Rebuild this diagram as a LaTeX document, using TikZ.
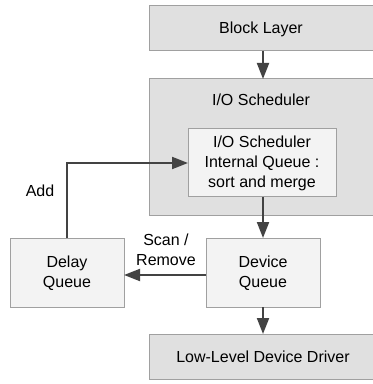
\documentclass[tikz,border=0pt]{standalone}
\usepackage{fontspec}
\setmainfont{Liberation Sans}
\usetikzlibrary{arrows.meta}
\definecolor{boxgray}{HTML}{E0E0E0}
\definecolor{boxlight}{HTML}{F3F3F3}
\definecolor{edgegray}{HTML}{A0A0A0}
\definecolor{arrowgray}{HTML}{434343}
\tikzset{
  layer/.style={draw=edgegray, line width=0.75pt, fill=boxgray},
  queue/.style={draw=edgegray, line width=0.75pt, fill=boxlight},
  label/.style={font=\fontsize{12pt}{15pt}\selectfont, align=center, inner sep=0pt},
  flow/.style={draw=arrowgray, line width=1.5pt,
    -{Triangle[length=12pt, width=9pt]}}
}
\begin{document}
\begin{tikzpicture}[x=0.75pt, y=-0.75pt]
  \useasboundingbox (0,0) rectangle (373,384);
  % boxes
  \draw[layer] (149,6) rectangle (373,51);
  \node[label] (block) at (261,29) {Block Layer};
  \coordinate (blockbot) at (263,51);

  \draw[layer] (149,79) rectangle (373,215);
  \coordinate (schedtop) at (263,79);
  \node[label] (sched) at (261,100) {I/O Scheduler};

  \draw[queue] (188,129) rectangle (336,197);
  \node[label] (internal) at (262,163) {I/O Scheduler\\Internal Queue :\\sort and merge};
  \coordinate (inbot) at (263,197);
  \coordinate (inleft) at (188,163);

  \draw[queue] (10,238) rectangle (124,307);
  \node[label] (delay) at (67,273) {Delay\\Queue};
  \coordinate (delaytop) at (67,238);
  \coordinate (delayright) at (124,275);

  \draw[queue] (206,238) rectangle (320,307);
  \node[label] (device) at (263,273) {Device\\Queue};
  \coordinate (devtop) at (263,238);
  \coordinate (devbot) at (263,307);
  \coordinate (devleft) at (206,275);

  \draw[layer] (149,334) rectangle (373,379);
  \node[label] (driver) at (263,357) {Low-Level Device Driver};
  \coordinate (drvtop) at (263,334);

  % connectors
  \draw[flow] (blockbot) -- (schedtop);
  \draw[flow] (inbot) -- (devtop);
  \draw[flow] (devbot) -- (drvtop);
  \draw[flow] (devleft) -- (delayright);
  \draw[flow] (delaytop) |- (inleft);

  % connector labels
  \node[label] (add) at (40,191) {Add};
  \node[label] (scan) at (166,250) {Scan /\\Remove};
\end{tikzpicture}
\end{document}
